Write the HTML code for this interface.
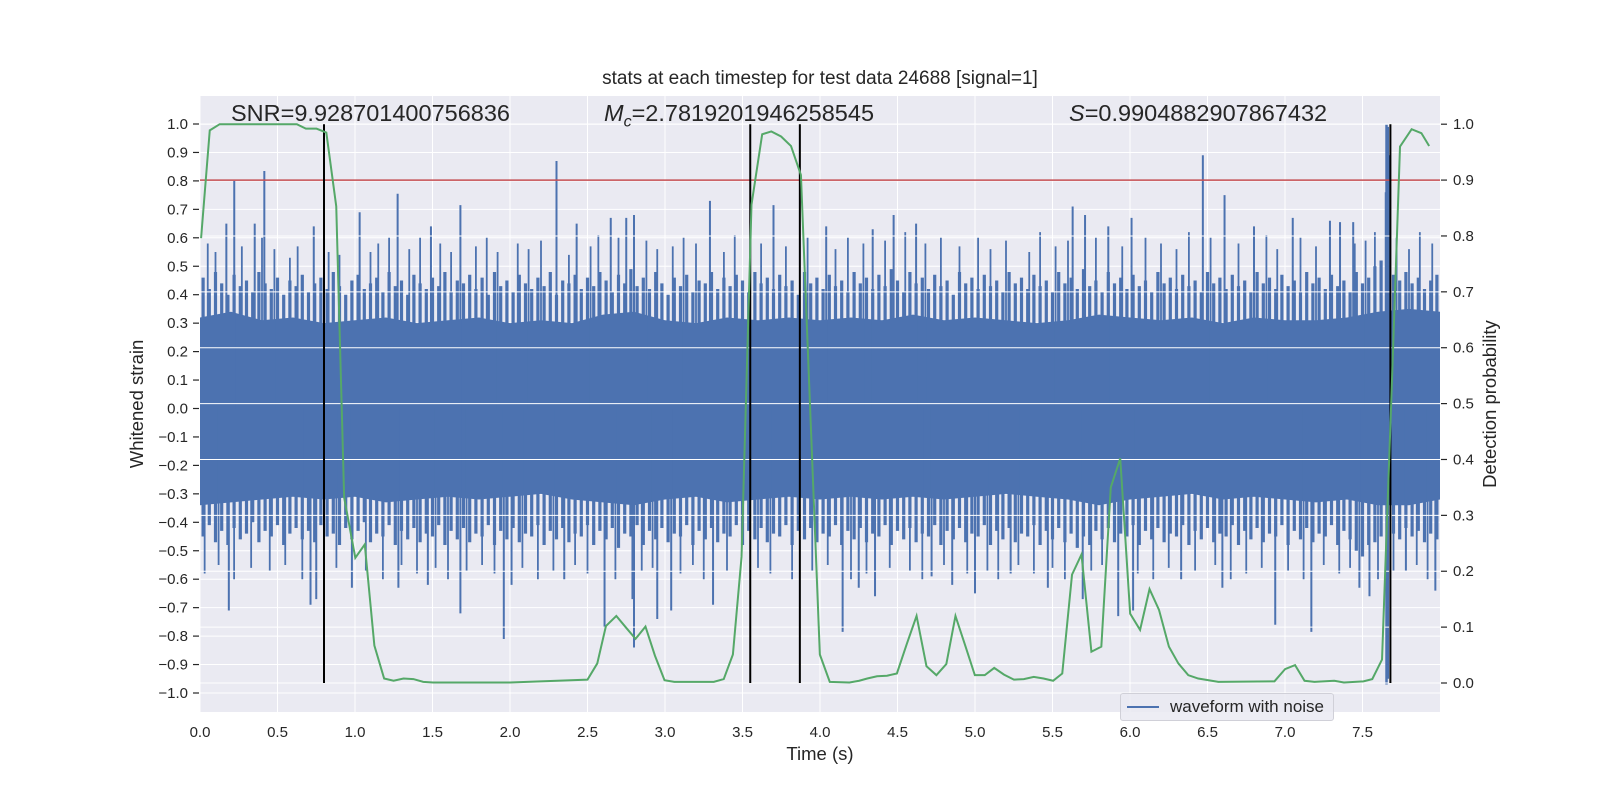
<!DOCTYPE html>
<html><head><meta charset="utf-8"><style>
body{margin:0;background:#fff;}
svg{display:block;font-family:"Liberation Sans","DejaVu Sans",sans-serif;}
</style></head><body>
<svg id="chart" width="1600" height="800" xmlns="http://www.w3.org/2000/svg"></svg>
<script>
// ---- data ----
const xTicks = [0,0.5,1,1.5,2,2.5,3,3.5,4,4.5,5,5.5,6,6.5,7,7.5];
const yTicksLeft = [1.0,0.9,0.8,0.7,0.6,0.5,0.4,0.3,0.2,0.1,0.0,-0.1,-0.2,-0.3,-0.4,-0.5,-0.6,-0.7,-0.8,-0.9,-1.0];
const yTicksRight = [0.0,0.1,0.2,0.3,0.4,0.5,0.6,0.7,0.8,0.9,1.0];
// detection probability curve
const probT = [0.007,0.063,0.127,0.625,0.683,0.752,0.815,0.879,0.930,1.002,1.063,1.125,1.188,1.249,1.313,1.377,1.44,1.504,2.0,2.5,2.563,2.619,2.686,2.749,2.81,2.874,2.935,2.997,3.06,3.315,3.379,3.438,3.494,3.558,3.627,3.686,3.749,3.813,3.877,3.999,4.063,4.19,4.253,4.305,4.368,4.432,4.496,4.56,4.623,4.687,4.751,4.815,4.874,4.937,4.999,5.063,5.124,5.187,5.251,5.315,5.379,5.442,5.504,5.563,5.626,5.687,5.751,5.815,5.876,5.937,6.001,6.065,6.126,6.187,6.251,6.312,6.376,6.44,6.57,6.932,7.001,7.065,7.126,7.19,7.318,7.38,7.506,7.563,7.626,7.685,7.742,7.817,7.88,7.93];
const probV = [0.796,0.989,1.0,1.0,0.992,0.992,0.985,0.853,0.332,0.224,0.248,0.067,0.008,0.004,0.008,0.007,0.002,0.001,0.001,0.006,0.035,0.102,0.12,0.099,0.079,0.101,0.049,0.005,0.002,0.002,0.007,0.051,0.226,0.856,0.982,0.987,0.978,0.961,0.909,0.051,0.002,0.001,0.004,0.008,0.012,0.013,0.017,0.07,0.12,0.03,0.014,0.034,0.12,0.067,0.014,0.014,0.027,0.015,0.006,0.007,0.011,0.008,0.004,0.017,0.194,0.23,0.056,0.065,0.35,0.402,0.124,0.095,0.168,0.131,0.065,0.035,0.014,0.008,0.002,0.003,0.025,0.032,0.004,0.002,0.004,0.001,0.003,0.007,0.042,0.5,0.96,0.991,0.984,0.961];
// waveform envelope (every 0.2 s)
const envT = [0,0.2,0.4,0.6,0.8,1.0,1.2,1.4,1.6,1.8,2.0,2.2,2.4,2.6,2.8,3.0,3.2,3.4,3.6,3.8,4.0,4.2,4.4,4.6,4.8,5.0,5.2,5.4,5.6,5.8,6.0,6.2,6.4,6.6,6.8,7.0,7.2,7.4,7.6,7.8,8.0];
const envHi = [0.32,0.34,0.31,0.32,0.30,0.31,0.32,0.30,0.31,0.32,0.30,0.31,0.30,0.33,0.34,0.31,0.30,0.32,0.31,0.32,0.31,0.32,0.31,0.33,0.31,0.32,0.31,0.30,0.31,0.33,0.32,0.31,0.32,0.30,0.32,0.31,0.31,0.32,0.34,0.35,0.34];
const envLo = [-0.34,-0.33,-0.32,-0.31,-0.32,-0.31,-0.33,-0.32,-0.31,-0.32,-0.31,-0.30,-0.32,-0.33,-0.34,-0.32,-0.31,-0.33,-0.32,-0.31,-0.32,-0.31,-0.32,-0.31,-0.32,-0.31,-0.30,-0.31,-0.32,-0.34,-0.32,-0.31,-0.30,-0.32,-0.31,-0.32,-0.33,-0.32,-0.34,-0.34,-0.32];
// prominent spikes
const spikeT = [0.221,0.415,2.30,1.275,1.68,3.29,1.03,0.353,0.17,0.734,3.70,1.49,2.75,2.80,2.65,2.43,6.47,6.61,5.63,4.475,6.01,7.05,4.62,7.29,7.355,7.44,6.80,5.71,4.04,4.34,5.86,7.65,7.675,
 0.186,0.713,0.75,1.96,1.68,2.80,2.61,2.79,3.04,2.95,3.31,0.98,1.28,1.47,2.35,2.01,4.146,4.355,4.853,5.0,5.47,5.695,5.924,6.02,6.596,6.937,7.17,7.48,7.545,7.78,4.25,4.72,5.23,6.33,7.97];
const spikeV = [0.80,0.835,0.87,0.755,0.715,0.73,0.69,0.65,0.65,0.64,0.715,0.64,0.67,0.68,0.67,0.65,0.89,0.75,0.71,0.68,0.67,0.67,0.65,0.66,0.655,0.655,0.64,0.68,0.64,0.63,0.64,0.76,0.89,
 -0.71,-0.69,-0.67,-0.81,-0.72,-0.84,-0.77,-0.67,-0.71,-0.74,-0.69,-0.63,-0.63,-0.62,-0.60,-0.62,-0.785,-0.66,-0.62,-0.65,-0.63,-0.67,-0.73,-0.71,-0.63,-0.76,-0.785,-0.63,-0.66,-0.57,-0.63,-0.59,-0.58,-0.60,-0.64];
const midT = [0.05,0.1,0.27,0.4,0.48,0.58,0.63,0.83,0.9,1.1,1.15,1.22,1.35,1.42,1.55,1.62,1.78,1.85,1.92,2.05,2.12,2.2,2.38,2.52,2.57,2.7,2.88,2.95,3.05,3.12,3.2,3.38,3.45,3.62,3.78,3.92,4.1,4.18,4.28,4.42,4.55,4.68,4.78,4.9,5.02,5.1,5.2,5.35,5.42,5.52,5.6,5.78,5.95,6.1,6.2,6.3,6.38,6.52,6.7,6.88,6.95,7.1,7.2,7.45,7.52,7.58,7.72,7.8,7.87,7.95];
const midV = [0.58,0.55,0.57,0.6,0.56,0.53,0.57,0.55,0.54,0.55,0.58,0.6,0.56,0.6,0.58,0.55,0.57,0.6,0.55,0.58,0.56,0.59,0.54,0.57,0.61,0.6,0.59,0.56,0.57,0.6,0.58,0.55,0.61,0.58,0.57,0.6,0.56,0.6,0.58,0.59,0.62,0.58,0.6,0.57,0.6,0.56,0.59,0.55,0.62,0.57,0.59,0.6,0.57,0.6,0.58,0.56,0.62,0.6,0.58,0.61,0.56,0.6,0.57,0.58,0.59,0.62,0.6,0.56,0.62,0.58];
const midLoT = [0.03,0.12,0.22,0.33,0.45,0.55,0.66,0.8,0.88,1.07,1.18,1.3,1.4,1.52,1.6,1.72,1.82,1.9,2.08,2.18,2.28,2.42,2.5,2.68,2.85,2.92,3.1,3.18,3.25,3.4,3.6,3.68,3.82,3.95,4.05,4.2,4.3,4.45,4.58,4.66,4.8,4.95,5.08,5.15,5.28,5.38,5.5,5.58,5.75,5.82,6.05,6.15,6.25,6.42,6.55,6.65,6.75,6.85,7.02,7.12,7.25,7.35,7.42,7.6,7.7,7.85,7.92];
const midLoV = [-0.58,-0.55,-0.6,-0.56,-0.57,-0.55,-0.6,-0.58,-0.56,-0.57,-0.6,-0.55,-0.58,-0.56,-0.6,-0.57,-0.55,-0.58,-0.56,-0.6,-0.57,-0.55,-0.58,-0.6,-0.57,-0.56,-0.58,-0.55,-0.6,-0.57,-0.56,-0.58,-0.6,-0.57,-0.55,-0.6,-0.58,-0.56,-0.57,-0.6,-0.55,-0.58,-0.57,-0.6,-0.55,-0.58,-0.56,-0.6,-0.57,-0.55,-0.58,-0.6,-0.56,-0.57,-0.55,-0.6,-0.58,-0.56,-0.57,-0.6,-0.55,-0.58,-0.56,-0.6,-0.57,-0.55,-0.6];
// dense ragged layer (sampled every 0.04 s)
const raggedT = [0.02,0.06,0.10,0.14,0.18,0.22,0.26,0.30,0.34,0.38,0.42,0.46,0.50,0.54,0.58,0.62,0.66,0.70,0.74,0.78,0.82,0.86,0.90,0.94,0.98,1.02,1.06,1.10,1.14,1.18,1.22,1.26,1.30,1.34,1.38,1.42,1.46,1.50,1.54,1.58,1.62,1.66,1.70,1.74,1.78,1.82,1.86,1.90,1.94,1.98,2.02,2.06,2.10,2.14,2.18,2.22,2.26,2.30,2.34,2.38,2.42,2.46,2.50,2.54,2.58,2.62,2.66,2.70,2.74,2.78,2.82,2.86,2.90,2.94,2.98,3.02,3.06,3.10,3.14,3.18,3.22,3.26,3.30,3.34,3.38,3.42,3.46,3.50,3.54,3.58,3.62,3.66,3.70,3.74,3.78,3.82,3.86,3.90,3.94,3.98,4.02,4.06,4.10,4.14,4.18,4.22,4.26,4.30,4.34,4.38,4.42,4.46,4.50,4.54,4.58,4.62,4.66,4.70,4.74,4.78,4.82,4.86,4.90,4.94,4.98,5.02,5.06,5.10,5.14,5.18,5.22,5.26,5.30,5.34,5.38,5.42,5.46,5.50,5.54,5.58,5.62,5.66,5.70,5.74,5.78,5.82,5.86,5.90,5.94,5.98,6.02,6.06,6.10,6.14,6.18,6.22,6.26,6.30,6.34,6.38,6.42,6.46,6.50,6.54,6.58,6.62,6.66,6.70,6.74,6.78,6.82,6.86,6.90,6.94,6.98,7.02,7.06,7.10,7.14,7.18,7.22,7.26,7.30,7.34,7.38,7.42,7.46,7.50,7.54,7.58,7.62,7.66,7.70,7.74,7.78,7.82,7.86,7.90,7.94,7.98];
const raggedHi = [0.46,0.42,0.48,0.44,0.40,0.47,0.43,0.45,0.41,0.48,0.44,0.42,0.46,0.40,0.45,0.43,0.47,0.41,0.44,0.46,0.42,0.48,0.43,0.40,0.45,0.47,0.42,0.44,0.46,0.41,0.48,0.43,0.45,0.40,0.47,0.44,0.42,0.46,0.43,0.48,0.41,0.45,0.44,0.47,0.42,0.46,0.40,0.48,0.43,0.45,0.41,0.47,0.44,0.42,0.46,0.43,0.48,0.40,0.45,0.44,0.47,0.42,0.46,0.43,0.48,0.45,0.41,0.47,0.44,0.49,0.43,0.46,0.42,0.48,0.44,0.40,0.46,0.43,0.47,0.41,0.45,0.44,0.48,0.42,0.46,0.43,0.47,0.45,0.41,0.48,0.44,0.46,0.42,0.47,0.43,0.45,0.40,0.48,0.44,0.46,0.42,0.47,0.43,0.45,0.41,0.48,0.44,0.46,0.42,0.47,0.43,0.49,0.45,0.41,0.48,0.44,0.46,0.42,0.47,0.43,0.45,0.40,0.48,0.44,0.46,0.42,0.47,0.43,0.45,0.41,0.48,0.44,0.46,0.42,0.47,0.43,0.45,0.41,0.48,0.44,0.46,0.42,0.49,0.43,0.45,0.41,0.48,0.44,0.46,0.42,0.47,0.43,0.45,0.41,0.48,0.44,0.46,0.42,0.47,0.43,0.45,0.41,0.48,0.44,0.46,0.42,0.47,0.43,0.45,0.41,0.48,0.44,0.46,0.42,0.47,0.43,0.45,0.41,0.48,0.44,0.46,0.42,0.47,0.43,0.45,0.41,0.48,0.44,0.46,0.50,0.52,0.48,0.47,0.45,0.48,0.44,0.46,0.42,0.45,0.47,0.43,0.46,0.44,0.48,0.42,0.45,0.47,0.43,0.46,0.44];
const raggedLo = [-0.45,-0.41,-0.47,-0.43,-0.48,-0.42,-0.46,-0.44,-0.40,-0.47,-0.43,-0.45,-0.41,-0.48,-0.44,-0.42,-0.46,-0.43,-0.47,-0.41,-0.45,-0.44,-0.48,-0.42,-0.46,-0.43,-0.40,-0.47,-0.44,-0.45,-0.41,-0.48,-0.43,-0.46,-0.42,-0.47,-0.44,-0.45,-0.41,-0.48,-0.43,-0.46,-0.42,-0.47,-0.44,-0.45,-0.41,-0.48,-0.43,-0.46,-0.42,-0.47,-0.44,-0.45,-0.41,-0.48,-0.43,-0.46,-0.42,-0.47,-0.44,-0.45,-0.41,-0.48,-0.43,-0.46,-0.42,-0.49,-0.44,-0.45,-0.41,-0.48,-0.43,-0.46,-0.42,-0.47,-0.44,-0.45,-0.41,-0.48,-0.43,-0.46,-0.42,-0.47,-0.44,-0.45,-0.41,-0.48,-0.43,-0.46,-0.42,-0.47,-0.44,-0.45,-0.41,-0.48,-0.43,-0.46,-0.42,-0.47,-0.44,-0.45,-0.41,-0.48,-0.43,-0.46,-0.42,-0.47,-0.44,-0.45,-0.41,-0.48,-0.43,-0.46,-0.42,-0.47,-0.44,-0.45,-0.41,-0.48,-0.43,-0.46,-0.42,-0.47,-0.44,-0.45,-0.41,-0.48,-0.43,-0.46,-0.42,-0.47,-0.44,-0.45,-0.41,-0.48,-0.43,-0.46,-0.42,-0.47,-0.44,-0.49,-0.45,-0.48,-0.43,-0.46,-0.42,-0.47,-0.44,-0.45,-0.41,-0.48,-0.43,-0.46,-0.42,-0.47,-0.44,-0.45,-0.41,-0.48,-0.43,-0.46,-0.42,-0.47,-0.44,-0.45,-0.41,-0.48,-0.43,-0.46,-0.42,-0.47,-0.44,-0.45,-0.41,-0.48,-0.43,-0.46,-0.42,-0.47,-0.44,-0.45,-0.41,-0.48,-0.43,-0.46,-0.50,-0.52,-0.48,-0.47,-0.45,-0.48,-0.44,-0.46,-0.42,-0.45,-0.43,-0.47,-0.44,-0.46];
const bigSpikeT = [7.655,7.663];
const bigSpikeHi = [1.0,0.99];
const bigSpikeLo = [-0.97,-0.95];
const vlineT = [0.80,3.55,3.87,7.68];
const threshold = 0.9;

// ---- axes ----
const L=200,R=1440,T=96,B=712;
const X = t => L + (t-0)/(8-0)*(R-L);
const YL = v => 124 + (1.0 - v)*284.5;
const YR = p => 683 - p*558.8;
const NS='http://www.w3.org/2000/svg';
const svg=document.getElementById('chart');
function el(tag,attrs,parent){const e=document.createElementNS(NS,tag);for(const k in attrs)e.setAttribute(k,attrs[k]);(parent||svg).appendChild(e);return e;}

const defs=el('defs',{});
const cp=el('clipPath',{id:'plotclip'},defs);
el('rect',{x:L,y:T,width:R-L,height:B-T},cp);

const bg=el('rect',{x:L,y:T,width:R-L,height:B-T,fill:'#EAEAF2'});



const gridL=el('g',{stroke:'#fff','stroke-width':1});


yTicksLeft.forEach(v=>{el('line',{x1:L,x2:R,y1:YL(v),y2:YL(v)},gridL);});
xTicks.forEach(t=>{el('line',{x1:X(t),x2:X(t),y1:T,y2:B},gridL);});

// waveform
const wf=el('g',{fill:'#4C72B0',stroke:'#4C72B0','clip-path':'url(#plotclip)'});


let pts=envT.map((t,i)=>X(t)+','+YL(envHi[i]));
for(let i=envT.length-1;i>=0;i--)pts.push(X(envT[i])+','+YL(envLo[i]));
el('polygon',{points:pts.join(' '),stroke:'none'},wf);
function spike(t,v,w){ if(typeof v!=='number'||typeof t!=='number') return; el('line',{x1:X(t),x2:X(t),y1:YL(0),y2:YL(v),'stroke-width':w},wf);}
raggedT.forEach((t,i)=>{spike(t,raggedHi[i],3.2);spike(t,raggedLo[i],3.2);});
midT.forEach((t,i)=>spike(t,midV[i],1.8));
midLoT.forEach((t,i)=>spike(t,midLoV[i],1.8));
spikeT.forEach((t,i)=>spike(t,spikeV[i],2));
bigSpikeT.forEach((t,i)=>{el('line',{x1:X(t),x2:X(t),y1:YL(bigSpikeLo[i]),y2:YL(bigSpikeHi[i]),'stroke-width':2.5},wf);});

// right grid (twin axis, horizontal only, above waveform)
const gridR=el('g',{stroke:'#fff','stroke-width':1});


yTicksRight.forEach(p=>{el('line',{x1:L,x2:R,y1:YR(p),y2:YR(p)},gridR);});

// threshold
const th=el('line',{x1:L,x2:R,y1:YR(threshold),y2:YR(threshold),stroke:'#C44E52','stroke-width':1.5});



// vertical lines
vlineT.forEach(t=>{
  const v=el('line',{x1:X(t),x2:X(t),y1:YR(0),y2:YR(1),stroke:'#000','stroke-width':2});
  
  
});

// probability curve
const pl=el('polyline',{points:probT.map((t,i)=>X(t)+','+YR(probV[i])).join(' '),fill:'none',stroke:'#55A868','stroke-width':2});



// ticks & labels
const axL=el('g',{'font-size':15,fill:'#262626'});


yTicksLeft.forEach(v=>{
  el('line',{x1:193,x2:199,y1:YL(v),y2:YL(v),stroke:'#262626','stroke-width':1.2},axL);
  const tx=el('text',{x:188,y:YL(v)+5,'text-anchor':'end'},axL);tx.textContent=v.toFixed(1).replace('-','\u2212');
});
const axR=el('g',{'font-size':15,fill:'#262626'});


yTicksRight.forEach(p=>{
  el('line',{x1:1441,x2:1447,y1:YR(p),y2:YR(p),stroke:'#262626','stroke-width':1.2},axR);
  const tx=el('text',{x:1453,y:YR(p)+5},axR);tx.textContent=p.toFixed(1);
});
const axX=el('g',{'font-size':15,fill:'#262626','text-anchor':'middle'});


xTicks.forEach(t=>{const tx=el('text',{x:X(t),y:737},axX);tx.textContent=t.toFixed(1);});
</script>
<div style="position:absolute;left:0;top:0;width:1600px;height:800px;pointer-events:none;font-family:'Liberation Sans','DejaVu Sans',sans-serif;color:#262626;">
  <div style="position:absolute;left:0;width:1640px;top:68px;text-align:center;font-size:19px;">stats at each timestep for test data 24688 [signal=1]</div>
  <div style="position:absolute;left:231px;top:100px;font-size:23.5px;">SNR=9.928701400756836</div>
  <div style="position:absolute;left:604px;top:100px;font-size:23.5px;"><i>M</i><sub style="font-size:16px;font-style:italic">c</sub>=2.7819201946258545</div>
  <div style="position:absolute;left:1069px;top:100px;font-size:23.5px;"><i>S</i>=0.9904882907867432</div>
  <div style="position:absolute;left:200px;width:1240px;top:743px;text-align:center;font-size:18.5px;">Time (s)</div>
  <div style="position:absolute;left:137px;top:404px;font-size:18.5px;white-space:nowrap;transform:translate(-50%,-50%) rotate(-90deg);">Whitened strain</div>
  <div style="position:absolute;left:1490px;top:404px;font-size:18.5px;white-space:nowrap;transform:translate(-50%,-50%) rotate(-90deg);">Detection probability</div>
  <div style="position:absolute;left:1120px;top:693px;width:212px;height:26px;background:rgba(234,234,242,0.85);border:1px solid #d0d0d8;border-radius:3px;font-size:17px;">
    <span style="position:absolute;left:6px;top:12px;width:32px;height:2px;background:#4C72B0;"></span>
    <span style="position:absolute;left:49px;top:3px;">waveform with noise</span>
  </div>
</div>
</body></html>
